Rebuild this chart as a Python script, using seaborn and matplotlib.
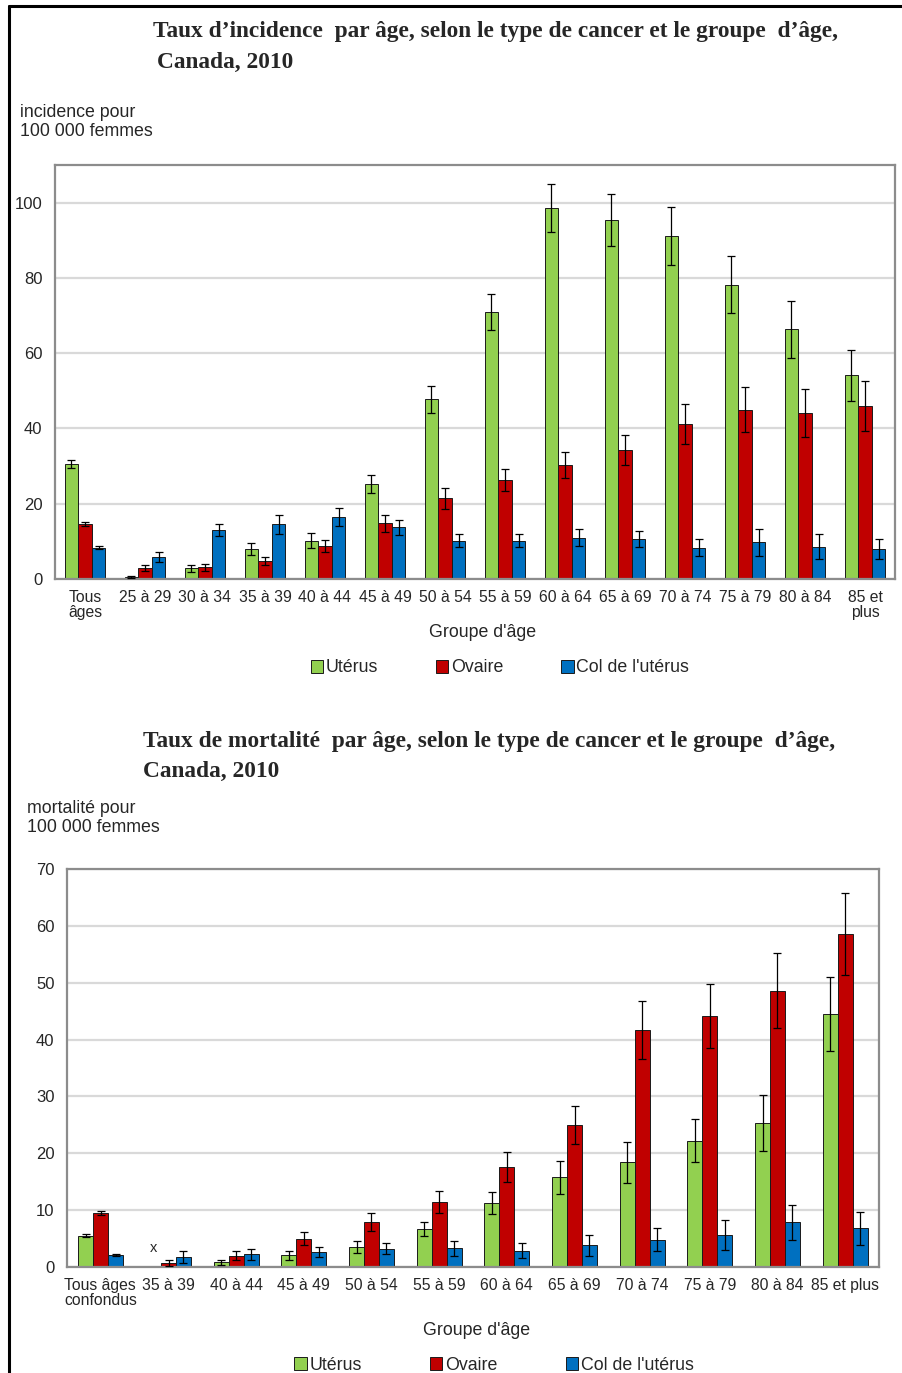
import numpy as np
import pandas as pd
import matplotlib
matplotlib.use("Agg")
import matplotlib.pyplot as plt
from matplotlib.lines import Line2D
from matplotlib.container import BarContainer
from matplotlib import font_manager
import seaborn as sns

# ---- data -------------------------------------------------------------
types = ["Utérus", "Ovaire", "Col de l'utérus"]
colors = ["#92D050", "#C00000", "#0070C0"]

inc_groups = ["Tous\nâges", "25 à 29", "30 à 34", "35 à 39", "40 à 44", "45 à 49",
              "50 à 54", "55 à 59", "60 à 64", "65 à 69", "70 à 74", "75 à 79",
              "80 à 84", "85 et\nplus"]
inc_uterus = [30.5, 0.6, 2.8, 8.0, 10.2, 25.2, 47.7, 71.0, 98.6, 95.5, 91.1, 78.2, 66.3, 54.1]
inc_uterus_err = [1.0, 0.3, 1.0, 1.5, 1.9, 2.4, 3.5, 4.8, 6.4, 6.9, 7.7, 7.6, 7.5, 6.7]
inc_ovaire = [14.6, 2.8, 3.1, 4.8, 8.8, 14.8, 21.4, 26.3, 30.3, 34.2, 41.3, 45.0, 44.2, 46.0]
inc_ovaire_err = [0.5, 0.8, 1.0, 1.1, 1.6, 2.2, 2.7, 2.9, 3.5, 4.0, 5.3, 5.9, 6.4, 6.7]
inc_col = [8.3, 5.9, 13.0, 14.5, 16.5, 13.7, 10.2, 10.2, 11.0, 10.6, 8.3, 9.7, 8.6, 7.9]
inc_col_err = [0.4, 1.3, 1.6, 2.5, 2.4, 2.0, 1.7, 1.7, 2.2, 2.1, 2.3, 3.5, 3.3, 2.7]

mort_groups = ["Tous âges\nconfondus", "35 à 39", "40 à 44", "45 à 49", "50 à 54",
               "55 à 59", "60 à 64", "65 à 69", "70 à 74", "75 à 79", "80 à 84",
               "85 et plus"]
nan = np.nan
mort_uterus = [5.5, nan, 0.8, 2.05, 3.5, 6.7, 11.25, 15.8, 18.4, 22.2, 25.3, 44.5]
mort_uterus_err = [0.3, nan, 0.4, 0.8, 1.0, 1.2, 1.9, 2.9, 3.6, 3.8, 4.9, 6.5]
mort_ovaire = [9.5, 0.7, 2.0, 5.0, 7.85, 11.4, 17.6, 25.0, 41.6, 44.2, 48.6, 58.5]
mort_ovaire_err = [0.3, 0.5, 0.75, 1.1, 1.6, 1.9, 2.6, 3.4, 5.1, 5.6, 6.6, 7.2]
mort_col = [2.05, 1.8, 2.2, 2.6, 3.2, 3.3, 2.9, 3.8, 4.8, 5.6, 7.85, 6.85]
mort_col_err = [0.2, 1.1, 1.0, 0.9, 1.0, 1.3, 1.3, 1.8, 2.05, 2.6, 3.1, 2.9]

# ---- style ------------------------------------------------------------
sns.set_style("white")
installed = {f.name for f in font_manager.fontManager.ttflist}
sans = "Liberation Sans Narrow" if "Liberation Sans Narrow" in installed else "Liberation Sans"
serif = "Liberation Serif"
plt.rcParams["font.family"] = [sans, "DejaVu Sans"]

W, H = 902, 1373
fig = plt.figure(figsize=(W / 100, H / 100), dpi=100)


def fx(px):
    return px / W


def fy(py):
    return 1 - py / H


text_col = "#262626"
spine_col = "#8c8c8c"
title_size = 16.8
label_size = 12.8


def draw(ax, groups, series, errs, ymax, yticks, width):
    rows = []
    for t, vals in zip(types, series):
        for g, v in zip(groups, vals):
            rows.append({"groupe": g, "taux": v, "type": t})
    df = pd.DataFrame(rows)
    sns.barplot(data=df, x="groupe", y="taux", hue="type", order=groups,
                hue_order=types, palette=colors, width=width, saturation=1,
                edgecolor="#1a1a1a", linewidth=0.7, errorbar=None, ax=ax)
    bar_conts = [c for c in ax.containers if isinstance(c, BarContainer)]
    # confidence intervals on each bar
    for i, cont in enumerate(bar_conts):
        xs, ys, es = [], [], []
        for p in cont:
            h = p.get_height()
            if not np.isfinite(h):
                continue
            xc = p.get_x() + p.get_width() / 2
            gi = int(round(xc))
            e = errs[i][gi]
            if not np.isfinite(e):
                continue
            xs.append(xc); ys.append(h); es.append(e)
        ax.errorbar(xs, ys, yerr=es, fmt="none", ecolor="black",
                    elinewidth=0.9, capsize=2.6, capthick=0.9, zorder=5)
    ax.set_xlim(-0.5, len(groups) - 0.5)
    ax.set_ylim(0, ymax)
    ax.set_yticks(yticks)
    ax.yaxis.grid(True, color="#d9d9d9", linewidth=1.6)
    ax.set_axisbelow(True)
    for s in ax.spines.values():
        s.set_visible(True)
        s.set_color(spine_col)
        s.set_linewidth(1.6)
    ax.set_xticks(range(len(groups)))
    ax.set_xticklabels(groups, fontsize=11.3, color=text_col, linespacing=1.0)
    ax.set_xticks(np.arange(len(groups) + 1) - 0.5, minor=True)
    ax.tick_params(axis="x", which="major", length=0, pad=8)
    ax.tick_params(axis="x", which="minor", length=3, width=1, color=spine_col,
                   direction="out")
    ax.tick_params(axis="y", length=0, pad=9, labelsize=12, labelcolor=text_col)
    ax.set_ylabel("")
    leg = ax.get_legend()
    if leg is not None:
        leg.remove()
    return bar_conts


def legend(ax, cx, cy, spacing):
    handles, labels = ax.get_legend_handles_labels()
    ax.legend(handles[:3], labels[:3], loc="center", bbox_to_anchor=(fx(cx), fy(cy)),
              bbox_transform=fig.transFigure, ncol=3, frameon=False,
              fontsize=label_size, handlelength=0.7, handleheight=0.7,
              handletextpad=0.15, columnspacing=spacing, labelcolor=text_col)


# ---- incidence --------------------------------------------------------
ax1 = fig.add_axes([fx(55), fy(579), fx(895) - fx(55), fy(165) - fy(579)])
draw(ax1, inc_groups, [inc_uterus, inc_ovaire, inc_col],
     [inc_uterus_err, inc_ovaire_err, inc_col_err], 110, [0, 20, 40, 60, 80, 100], 0.68)
ax1.set_xlabel("Groupe d'âge", fontsize=label_size, color=text_col)
ax1.xaxis.set_label_coords((483 - 55) / 840, (579 - 624) / 414)
legend(ax1, 500, 668, 3.25)

fig.text(fx(153), fy(32), "Taux d’incidence  par âge, selon le type de cancer et le groupe  d’âge,",
         family=serif, fontweight="bold", fontsize=title_size, va="center", ha="left")
fig.text(fx(157), fy(62), "Canada, 2010", family=serif, fontweight="bold",
         fontsize=title_size, va="center", ha="left")
fig.text(fx(20), fy(104), "incidence pour\n100 000 femmes", fontsize=label_size,
         color=text_col, va="top", ha="left", linespacing=1.15)

# ---- mortalité --------------------------------------------------------
ax2 = fig.add_axes([fx(67), fy(1267), fx(879) - fx(67), fy(869) - fy(1267)])
conts2 = draw(ax2, mort_groups, [mort_uterus, mort_ovaire, mort_col],
              [mort_uterus_err, mort_ovaire_err, mort_col_err], 70,
              list(range(0, 71, 10)), 0.665)
ax2.get_xticklabels()[0].set_multialignment("left")
ax2.set_xlabel("Groupe d'âge", fontsize=label_size, color=text_col)
ax2.xaxis.set_label_coords((477 - 67) / 812, (1267 - 1322) / 398)
legend(ax2, 494, 1365, 3.85)

# suppressed value marker for the Utérus bar of the 35 à 39 group
green_bar = conts2[0][0]
offset = green_bar.get_x() + green_bar.get_width() / 2
ax2.text(1 + offset, 3.4, "x", ha="center", va="center", fontsize=10.5, color=text_col)

fig.text(fx(143), fy(742), "Taux de mortalité  par âge, selon le type de cancer et le groupe  d’âge,",
         family=serif, fontweight="bold", fontsize=title_size, va="center", ha="left")
fig.text(fx(143), fy(771), "Canada, 2010", family=serif, fontweight="bold",
         fontsize=title_size, va="center", ha="left")
fig.text(fx(27), fy(800), "mortalité pour\n100 000 femmes", fontsize=label_size,
         color=text_col, va="top", ha="left", linespacing=1.15)

# page frame
fig.add_artist(Line2D([fx(9), fx(9)], [0, fy(6)], color="black", linewidth=2.2))
fig.add_artist(Line2D([fx(9), 1], [fy(6), fy(6)], color="black", linewidth=2.2))

fig.savefig("out.png", dpi=100)
